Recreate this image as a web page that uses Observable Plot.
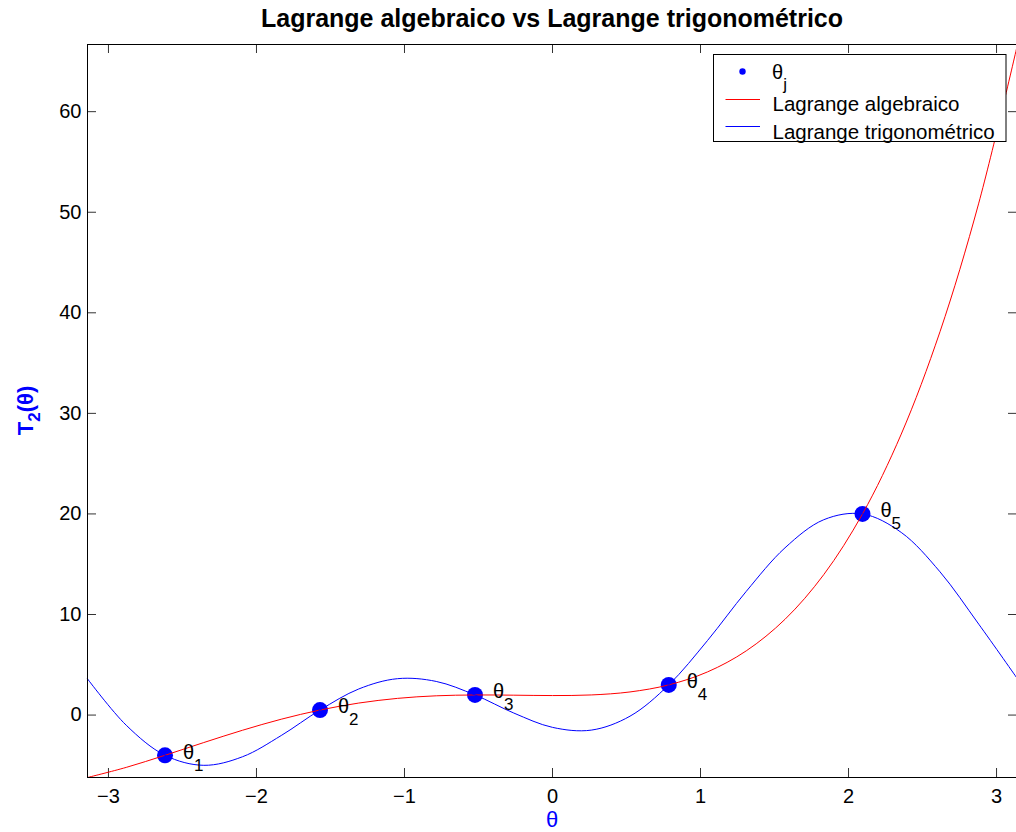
<!DOCTYPE html>
<html>
<head>
<meta charset="utf-8">
<script src="https://cdn.jsdelivr.net/npm/d3@7"></script>
<script src="https://cdn.jsdelivr.net/npm/@observablehq/plot@0.6"></script>
<style>
  html, body { margin: 0; padding: 0; background: white; }
  #chart svg { display: block; }
</style>
</head>
<body>
<div id="chart"></div>
<script>
// ---------- data ----------
const nodeTheta = [-2.61799, -1.5708, -0.5236, 0.7854, 2.0944];
const nodeValue = [-4, 0.5, 2, 3, 20];
const nodeSub = ["1", "2", "3", "4", "5"];

const curveTheta = [-3.14159, -2.87979, -2.61799, -2.35619, -2.0944, -1.8326, -1.5708, -1.309, -1.0472, -0.7854, -0.5236, -0.2618, 0,
                    0.2618, 0.5236, 0.7854, 1.0472, 1.309, 1.5708, 1.8326, 2.0944, 2.35619, 2.61799, 2.87979, 3.14159];
const algebraicValue = [-6.208, -5.202, -4, -2.733, -1.51, -0.412, 0.5, 1.194, 1.661, 1.916, 2, 1.978, 1.94,
                        2.001, 2.3, 3, 4.291, 6.386, 9.523, 13.965, 20, 27.939, 38.121, 50.905, 66.679];
const trigValue = [3.6, -1.013, -4, -4.997, -4.146, -2.033, 0.5, 2.594, 3.619, 3.344, 2, 0.204, -1.223,
                   -1.496, -0.111, 3, 7.413, 12.3, 16.631, 19.424, 20, 18.16, 14.242, 9.037, 3.6];

const xTicks = [-3, -2, -1, 0, 1, 2, 3];
const yTicks = [0, 10, 20, 30, 40, 50, 60];
const xLimits = [-3.14159, 3.14159];
const yLimits = [-6.208, 66.679];

const titleText = "Lagrange algebraico vs Lagrange trigonométrico";
const seriesNames = ["θ", "Lagrange algebraico", "Lagrange trigonométrico"];

// ---------- tables ----------
const nodes = nodeTheta.map((t, i) => ({theta: t, value: nodeValue[i], sub: nodeSub[i]}));
const algebraic = curveTheta.map((t, i) => ({theta: t, value: algebraicValue[i]}));
const trig = curveTheta.map((t, i) => ({theta: t, value: trigValue[i]}));

const FONT = "'Liberation Sans', Arial, Helvetica, sans-serif";
const W = 1016, H = 832;
const mL = 87, mR = -1, mT = 44, mB = 55;
const frameW = W - mR - mL, frameH = H - mT - mB;
const tickLen = 9;
const fmt = d => (d < 0 ? "\u2212" + Math.abs(d) : String(d));

const plot = Plot.plot({
  width: W,
  height: H,
  marginLeft: mL,
  marginRight: mR,
  marginTop: mT,
  marginBottom: mB,
  style: {fontFamily: FONT, fontSize: "20px", background: "white", color: "black", overflow: "hidden"},
  x: {domain: xLimits, label: null},
  y: {domain: yLimits, label: null},
  marks: [
    // inward tick marks on all four sides
    Plot.ruleX(xTicks, {stroke: "#333", strokeWidth: 1, insetTop: frameH - tickLen}),
    Plot.ruleX(xTicks, {stroke: "#333", strokeWidth: 1, insetBottom: frameH - tickLen}),
    Plot.ruleY(yTicks, {stroke: "#333", strokeWidth: 1, insetRight: frameW - tickLen}),
    Plot.ruleY(yTicks, {stroke: "#333", strokeWidth: 1, insetLeft: frameW - tickLen}),
    Plot.axisX({ticks: xTicks, tickFormat: fmt, tickSize: 0, tickPadding: 11, fontSize: 20, label: null}),
    Plot.axisY({ticks: yTicks, tickFormat: fmt, tickSize: 0, tickPadding: 6, fontSize: 20, label: null}),
    Plot.dot(nodes, {x: "theta", y: "value", r: 8, fill: "#0000ff", stroke: "none"}),
    Plot.line(algebraic, {x: "theta", y: "value", stroke: "#ff0000", strokeWidth: 1, curve: "catmull-rom"}),
    Plot.line(trig, {x: "theta", y: "value", stroke: "#0000ff", strokeWidth: 1, curve: "catmull-rom"}),
    Plot.text(nodes, {x: "theta", y: "value", text: () => "θ", textAnchor: "start", dx: 18, dy: -3, fontSize: 20, fill: "black"}),
    Plot.text(nodes, {x: "theta", y: "value", text: "sub", textAnchor: "start", dx: 29, dy: 10, fontSize: 17, fill: "black"}),
    Plot.frame({stroke: "black", strokeWidth: 1})
  ]
});

document.getElementById("chart").appendChild(plot);

// ---------- title, axis labels, legend ----------
const svg = d3.select(plot);
const g = svg.append("g").attr("font-family", FONT).attr("text-anchor", "start");

g.append("text")
  .attr("x", 552).attr("y", 27)
  .attr("text-anchor", "middle")
  .attr("font-size", 25).attr("font-weight", "bold")
  .attr("fill", "black")
  .text(titleText);

g.append("text")
  .attr("x", 552).attr("y", 827)
  .attr("text-anchor", "middle")
  .attr("font-size", 22)
  .attr("fill", "#0000ff")
  .text("θ");

const yl = g.append("text")
  .attr("transform", "translate(33,410.5) rotate(-90)")
  .attr("text-anchor", "middle")
  .attr("font-size", 22).attr("font-weight", "bold")
  .attr("fill", "#0000ff");
yl.append("tspan").text("T");
yl.append("tspan").attr("dy", 7).attr("font-size", 17).text("2");
yl.append("tspan").attr("dy", -7).text("(θ)");

// legend
const lg = g.append("g").attr("text-anchor", "start");
lg.append("rect")
  .attr("x", 713.5).attr("y", 54.5).attr("width", 292.5).attr("height", 87)
  .attr("fill", "white").attr("stroke", "black").attr("stroke-width", 1);
lg.append("circle").attr("cx", 742.5).attr("cy", 71.5).attr("r", 3.2).attr("fill", "#0000ff");
const lt0 = lg.append("text").attr("x", 772).attr("y", 79).attr("font-size", 20).attr("fill", "black").attr("text-anchor", "start");
lt0.append("tspan").text(seriesNames[0]);
lt0.append("tspan").attr("dy", 11).attr("font-size", 17).text("j");
lg.append("line").attr("x1", 725.5).attr("x2", 760).attr("y1", 99.5).attr("y2", 99.5)
  .attr("stroke", "#ff0000").attr("stroke-width", 1);
lg.append("text").attr("x", 772.5).attr("y", 111).attr("font-size", 20.5).attr("fill", "black").attr("text-anchor", "start").text(seriesNames[1]);
lg.append("line").attr("x1", 725.5).attr("x2", 760).attr("y1", 126.5).attr("y2", 126.5)
  .attr("stroke", "#0000ff").attr("stroke-width", 1);
lg.append("text").attr("x", 772.5).attr("y", 138.5).attr("font-size", 20.5).attr("fill", "black").attr("text-anchor", "start").text(seriesNames[2]);
</script>
</body>
</html>
